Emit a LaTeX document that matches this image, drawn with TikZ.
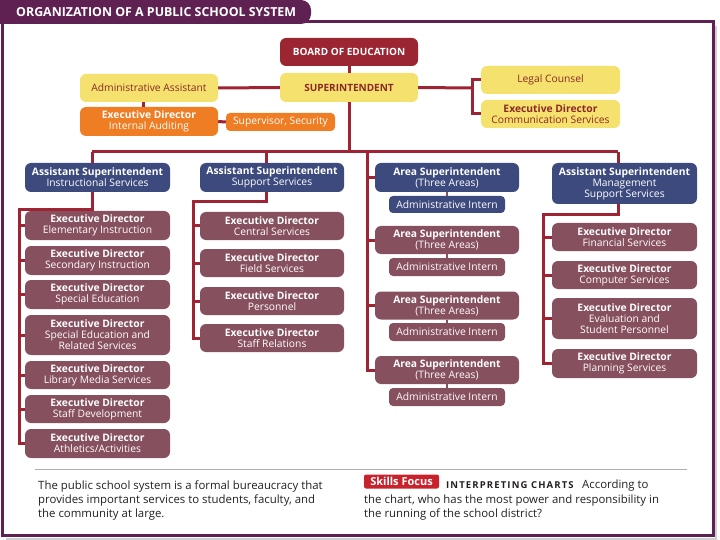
\documentclass[tikz,border=0pt]{standalone}
\usepackage{fontspec}
\setmainfont{Open Sans}
\definecolor{framec}{RGB}{94,33,82}
\definecolor{linered}{RGB}{158,36,52}
\definecolor{boardc}{RGB}{155,38,50}
\definecolor{yellowc}{RGB}{244,225,110}
\definecolor{ytext}{RGB}{140,40,40}
\definecolor{orangec}{RGB}{238,125,35}
\definecolor{bluec}{RGB}{61,74,125}
\definecolor{maroonc}{RGB}{135,80,95}
\definecolor{greyc}{RGB}{175,175,180}
\definecolor{tagred}{RGB}{200,35,44}
\definecolor{textc}{RGB}{35,31,32}
\begin{document}
\begin{tikzpicture}[x=1pt,y=-1pt,
  box/.style={rounded corners=6pt, inner sep=0pt, align=center, text=white,
    font=\fontsize{10.3}{11}\selectfont},
  mbox/.style={box, fill=maroonc, minimum width=145pt, minimum height=29pt},
  bbox/.style={box, fill=bluec},
  ybox/.style={box, fill=yellowc, text=ytext},
  obox/.style={box, fill=orangec},
  ibox/.style={box, minimum width=116pt, minimum height=18pt, rounded corners=4pt},
  conn/.style={draw=linered, line width=3pt},
  para/.style={anchor=base west, inner sep=0pt, text=textc, font=\fontsize{11.4}{14}\selectfont}
]
\useasboundingbox (0,0) rectangle (720,540);
% frame
\draw[greyc!60, line width=2pt] (716,26) -- (716,538.5) -- (6,538.5);
\draw[framec, line width=3pt] (2,22) rectangle (713,535.5);
\fill[framec] (0,24) -- (0,0) {[rounded corners=10pt] -- (311,0) -- (311,24)} -- cycle;
\node[anchor=base west, inner sep=0pt, text=white, font=\bfseries\fontsize{12.4}{12}\selectfont] (title) at (16,17) {ORGANIZATION OF A PUBLIC SCHOOL SYSTEM};

% top
\node[box, fill=boardc, font=\bfseries\fontsize{10}{11}\selectfont, minimum width=138pt, minimum height=28pt] (board) at (349,52) {BOARD OF EDUCATION};
\node[ybox, font=\bfseries\fontsize{10}{11}\selectfont, minimum width=138pt, minimum height=29pt] (super) at (349,87.5) {SUPERINTENDENT};
\node[ybox, minimum width=138pt, minimum height=28pt] (aa) at (149,88) {Administrative Assistant};
\node[obox, minimum width=138pt, minimum height=29pt] (eda) at (149,121.5) {\textbf{Executive Director}\\Internal Auditing};
\node[obox, minimum width=109pt, minimum height=18pt, rounded corners=4pt] (sec) at (280.5,122) {Supervisor, Security};
\node[ybox, minimum width=139pt, minimum height=28pt] (legal) at (550.5,80) {Legal Counsel};
\node[ybox, minimum width=139pt, minimum height=28pt] (comm) at (550.5,114) {\textbf{Executive Director}\\Communication Services};

% heads
\node[bbox, minimum width=145pt, minimum height=29pt] (c1h) at (97.5,177.5) {\textbf{Assistant Superintendent}\\Instructional Services};
\node[bbox, minimum width=144pt, minimum height=29pt] (c2h) at (272,177.5) {\textbf{Assistant Superintendent}\\Support Services};
\node[bbox, minimum width=144pt, minimum height=29pt] (a1) at (447,177.5) {\textbf{Area Superintendent}\\(Three Areas)};
\node[bbox, minimum width=145pt, minimum height=41pt] (c4h) at (624.5,183.5) {\textbf{Assistant Superintendent}\\Management\\Support Services};

% column 1
\node[mbox] (e11) at (97.5,225.5) {\textbf{Executive Director}\\Elementary Instruction};
\node[mbox] (e12) at (97.5,260.5) {\textbf{Executive Director}\\Secondary Instruction};
\node[mbox] (e13) at (97.5,294.5) {\textbf{Executive Director}\\Special Education};
\node[mbox, minimum height=40pt] (e14) at (97.5,335) {\textbf{Executive Director}\\Special Education and\\Related Services};
\node[mbox, minimum height=28pt] (e15) at (97.5,375) {\textbf{Executive Director}\\Library Media Services};
\node[mbox, minimum height=28pt] (e16) at (97.5,409) {\textbf{Executive Director}\\Staff Development};
\node[mbox] (e17) at (97.5,443.5) {\textbf{Executive Director}\\Athletics/Activities};

% column 2
\node[mbox, minimum width=144pt, minimum height=28pt] (e21) at (272,226) {\textbf{Executive Director}\\Central Services};
\node[mbox, minimum width=144pt, minimum height=28pt] (e22) at (272,263) {\textbf{Executive Director}\\Field Services};
\node[mbox, minimum width=144pt, minimum height=28pt] (e23) at (272,301) {\textbf{Executive Director}\\Personnel};
\node[mbox, minimum width=144pt, minimum height=28pt] (e24) at (272,338) {\textbf{Executive Director}\\Staff Relations};

% column 3
\node[mbox, minimum width=144pt, minimum height=28pt] (a2) at (447,240) {\textbf{Area Superintendent}\\(Three Areas)};
\node[mbox, minimum width=144pt, minimum height=28pt] (a3) at (447,305.5) {\textbf{Area Superintendent}\\(Three Areas)};
\node[mbox, minimum width=144pt, minimum height=28pt] (a4) at (447,370) {\textbf{Area Superintendent}\\(Three Areas)};
\node[ibox, fill=bluec, minimum height=17pt] (n1) at (447,204.5) {Administrative Intern};
\node[ibox, fill=maroonc] (n2) at (447,267) {Administrative Intern};
\node[ibox, fill=maroonc] (n3) at (447,332) {Administrative Intern};
\node[ibox, fill=maroonc] (n4) at (447,397) {Administrative Intern};

% column 4
\node[mbox, minimum height=28pt] (e41) at (624.5,237) {\textbf{Executive Director}\\Financial Services};
\node[mbox, minimum height=28pt] (e42) at (624.5,275) {\textbf{Executive Director}\\Computer Services};
\node[mbox, minimum height=41pt] (e43) at (624.5,318.5) {\textbf{Executive Director}\\Evaluation and\\Student Personnel};
\node[mbox] (e44) at (624.5,363.5) {\textbf{Executive Director}\\Planning Services};

% connectors
\coordinate (d1) at (92,152);
\coordinate (d2) at (266,152);
\coordinate (d3) at (367,152);
\coordinate (d4) at (618,152);
\coordinate (s1) at (19,210);
\coordinate (s2) at (193,202);
\coordinate (s4) at (543,215);
\coordinate (br) at (472,88);
\draw[conn] (board.south) -- (super.north);
\draw[conn] (super.south) -- (super.south |- d1);
\draw[conn] (d1) -- (d4);
\draw[conn] (aa.east) -- (super.west);
\draw[conn] ([xshift=-6pt]aa.south) -- ([xshift=-6pt]eda.north);
\draw[conn] (eda.east) -- (sec.west);
\draw[conn] (super.east) -- (br);
\draw[conn, line join=miter] (legal.west) -| (br) |- (comm.west);
\draw[conn] (d1) -- (d1 |- c1h.north);
\draw[conn] (d2) -- (d2 |- c2h.north);
\draw[conn] (d4) -- (d4 |- c4h.north);
\draw[conn, line join=miter] (c1h.south -| d1) |- (s1) |- (e17.west);
\foreach \n in {e11,e12,e13,e14,e15,e16} \draw[conn] (s1 |- \n.west) -- (\n.west);
\draw[conn, line join=miter] (c2h.south -| d2) |- (s2) |- (e24.west);
\foreach \n in {e21,e22,e23} \draw[conn] (s2 |- \n.west) -- (\n.west);
\draw[conn, line join=miter] (d3) |- (a4.west);
\foreach \n in {a1,a2,a3} \draw[conn] (d3 |- \n.west) -- (\n.west);
\foreach \a/\b in {a1/n1,a2/n2,a3/n3,a4/n4} \draw[draw=maroonc, line width=2pt] (\a.south) -- (\b.north);
\draw[conn, line join=miter] (c4h.south -| d4) |- (s4) |- (e44.west);
\foreach \n in {e41,e42,e43} \draw[conn] (s4 |- \n.west) -- (\n.west);

% bottom
\draw[greyc, line width=1pt] (35,469) -- (687,469);
\node[para] (p1) at (38,489) {The public school system is a formal bureaucracy that};
\node[para] (p2) at (38,503) {provides important services to students, faculty, and};
\node[para] (p3) at (38,517) {the community at large.};
\node[fill=tagred, rounded corners=2pt, inner sep=0pt, minimum width=75pt, minimum height=14pt, text=white, font=\bfseries\fontsize{11}{11}\selectfont] (tag) at (401.5,481.5) {Skills Focus};
\node[anchor=base west, inner sep=0pt, text=textc, font=\bfseries\fontsize{9.5}{9}\addfontfeature{LetterSpace=12}\selectfont] (ic) at (446,488) {INTERPRETING CHARTS};
\node[para] (q1) at (582,488) {According to};
\node[para] (q2) at (364,503) {the chart, who has the most power and responsibility in};
\node[para] (q3) at (364,517) {the running of the school district?};
\end{tikzpicture}
\end{document}
